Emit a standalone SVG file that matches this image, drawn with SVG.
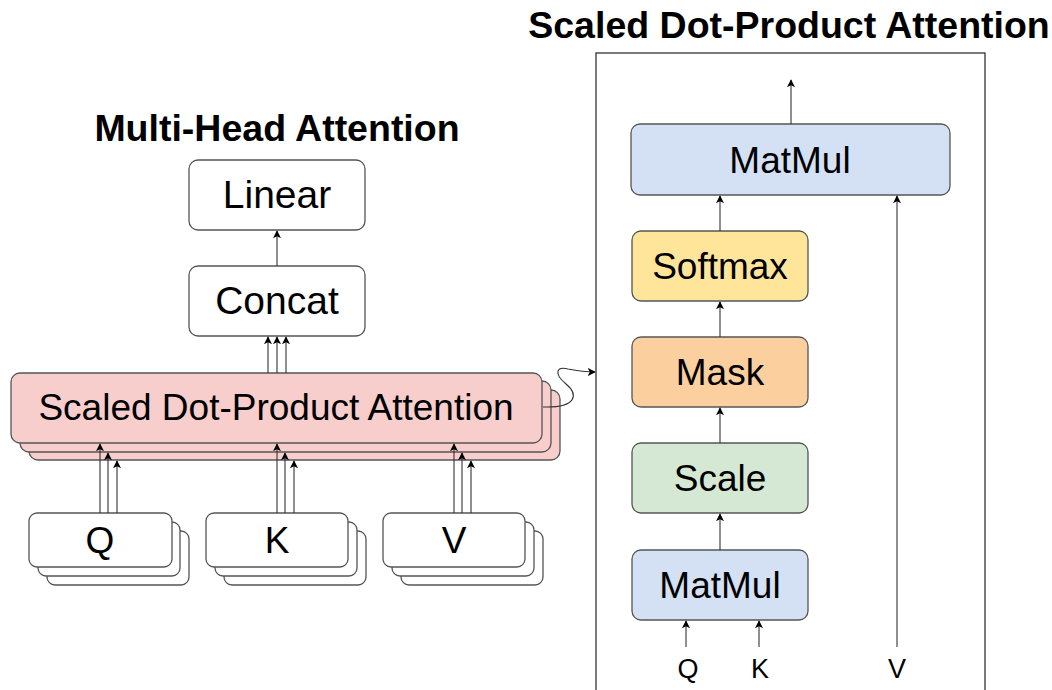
<svg xmlns="http://www.w3.org/2000/svg" width="1052" height="690" viewBox="0 0 1052 690">
  <style>
    .box { stroke: #555; stroke-width: 1.3; }
    .plain { fill: #ffffff; }
    .pink { fill: #f8cecc; }
    .blue { fill: #d4e1f5; }
    .yellow { fill: #ffe599; }
    .orange { fill: #fccf9e; }
    .green { fill: #d5e8d4; }
    .lbl { font-family: "Liberation Sans", Arial, sans-serif; font-size: 37px; fill: #000; text-anchor: middle; }
    .big { font-size: 39px; }
    .small { font-family: "Liberation Sans", Arial, sans-serif; font-size: 27px; fill: #000; text-anchor: middle; }
    .title { font-family: "Liberation Sans", Arial, sans-serif; font-size: 37.5px; font-weight: bold; fill: #000; text-anchor: middle; }
    .edge { fill: none; stroke: #333; stroke-width: 1.1; marker-end: url(#arrow); }
  </style>
  <defs>
    <marker id="arrow" viewBox="0 0 10 10" refX="9" refY="5" markerWidth="8" markerHeight="8" markerUnits="userSpaceOnUse" orient="auto">
      <path d="M0,0 L10,5 L0,10 L2.5,5 Z" fill="#000"/>
    </marker>
  </defs>

  <rect width="1052" height="690" fill="#ffffff"/>

  <!-- headings -->
  <text class="title" x="277" y="141">Multi-Head Attention</text>
  <text class="title" x="789" y="38">Scaled Dot-Product Attention</text>

  <!-- frame around the expanded attention block -->
  <rect id="sdpa-panel" x="596" y="53" width="389" height="700" fill="none" stroke="#333" stroke-width="1.3"/>

  <!-- Multi-head side -->
  <g id="linear">
    <rect class="box plain" x="189" y="160" width="176" height="70" rx="9"/>
    <text class="lbl big" x="277" y="208">Linear</text>
  </g>
  <g id="concat">
    <rect class="box plain" x="189" y="266" width="176" height="70" rx="9"/>
    <text class="lbl big" x="277" y="314">Concat</text>
  </g>
  <g id="sdpa-heads">
    <rect class="box pink" x="29" y="390" width="531" height="70" rx="9"/>
    <rect class="box pink" x="20" y="381" width="531" height="71" rx="9"/>
    <rect class="box pink" x="11" y="373" width="531" height="70" rx="9"/>
    <text class="lbl" x="276" y="420">Scaled Dot-Product Attention</text>
  </g>
  <g id="q-stack">
    <rect class="box plain" x="47" y="531" width="142" height="54" rx="8"/>
    <rect class="box plain" x="38" y="522" width="142" height="54" rx="8"/>
    <rect class="box plain" x="29" y="513" width="143" height="54" rx="8"/>
    <text class="lbl" x="100" y="553">Q</text>
  </g>
  <g id="k-stack">
    <rect class="box plain" x="224" y="531" width="142" height="54" rx="8"/>
    <rect class="box plain" x="215" y="522" width="142" height="54" rx="8"/>
    <rect class="box plain" x="206" y="513" width="142" height="54" rx="8"/>
    <text class="lbl" x="277" y="553">K</text>
  </g>
  <g id="v-stack">
    <rect class="box plain" x="401" y="531" width="142" height="54" rx="8"/>
    <rect class="box plain" x="392" y="522" width="142" height="54" rx="8"/>
    <rect class="box plain" x="383" y="513" width="142" height="54" rx="8"/>
    <text class="lbl" x="454" y="553">V</text>
  </g>

  <!-- Scaled dot-product side -->
  <g id="matmul-top">
    <rect class="box blue" x="631" y="124" width="319" height="71" rx="9"/>
    <text class="lbl" x="790" y="173">MatMul</text>
  </g>
  <g id="softmax">
    <rect class="box yellow" x="632" y="231" width="176" height="70" rx="9"/>
    <text class="lbl" x="720" y="279">Softmax</text>
  </g>
  <g id="mask">
    <rect class="box orange" x="632" y="337" width="176" height="70" rx="9"/>
    <text class="lbl" x="720" y="385">Mask</text>
  </g>
  <g id="scale">
    <rect class="box green" x="632" y="443" width="176" height="70" rx="9"/>
    <text class="lbl" x="720" y="491">Scale</text>
  </g>
  <g id="matmul-bottom">
    <rect class="box blue" x="632" y="550" width="176" height="70" rx="9"/>
    <text class="lbl" x="720" y="598">MatMul</text>
  </g>
  <g id="inputs">
    <text class="small" x="688" y="678">Q</text>
    <text class="small" x="760" y="678">K</text>
    <text class="small" x="897" y="678">V</text>
  </g>

  <g id="connectors">
    <!-- Multi-head flow -->
    <line class="edge" x1="277" y1="266" x2="277" y2="231"/>
    <line class="edge" x1="268" y1="373" x2="268" y2="337"/>
    <line class="edge" x1="277" y1="373" x2="277" y2="337"/>
    <line class="edge" x1="286" y1="373" x2="286" y2="337"/>

    <line class="edge" x1="100" y1="513" x2="100" y2="444"/>
    <line class="edge" x1="108" y1="513" x2="108" y2="453"/>
    <line class="edge" x1="117" y1="513" x2="117" y2="461"/>
    <line class="edge" x1="277" y1="513" x2="277" y2="444"/>
    <line class="edge" x1="285" y1="513" x2="285" y2="453"/>
    <line class="edge" x1="294" y1="513" x2="294" y2="461"/>
    <line class="edge" x1="454" y1="513" x2="454" y2="444"/>
    <line class="edge" x1="462" y1="513" x2="462" y2="453"/>
    <line class="edge" x1="471" y1="513" x2="471" y2="461"/>

    <!-- link from the heads to the expanded view -->
    <path class="edge" d="M543,407 C578,408 578,394 566,384 C553,373 557,366 568,369 C578,371 586,372 595,372"/>

    <!-- Scaled dot-product flow -->
    <line class="edge" x1="791" y1="124" x2="791" y2="80"/>
    <line class="edge" x1="720" y1="231" x2="720" y2="196"/>
    <line class="edge" x1="720" y1="337" x2="720" y2="302"/>
    <line class="edge" x1="720" y1="443" x2="720" y2="408"/>
    <line class="edge" x1="720" y1="550" x2="720" y2="514"/>
    <line class="edge" x1="686" y1="647" x2="686" y2="621"/>
    <line class="edge" x1="759" y1="647" x2="759" y2="621"/>
    <line class="edge" x1="897" y1="647" x2="897" y2="196"/>
  </g>
</svg>
